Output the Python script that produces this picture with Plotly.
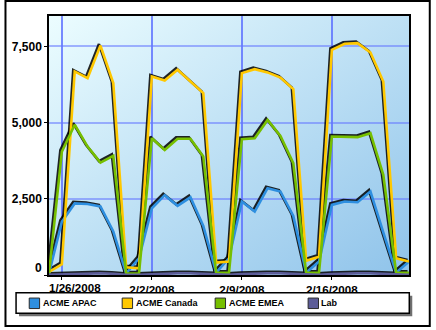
import base64
import datetime as dt
import plotly.graph_objects as go

# Daily values per region
dates = [
    "2008-01-25", "2008-01-26", "2008-01-27", "2008-01-28", "2008-01-29", "2008-01-30",
    "2008-01-31", "2008-02-01", "2008-02-02", "2008-02-03", "2008-02-04", "2008-02-05",
    "2008-02-06", "2008-02-07", "2008-02-08", "2008-02-09", "2008-02-10", "2008-02-11",
    "2008-02-12", "2008-02-13", "2008-02-14", "2008-02-15", "2008-02-16", "2008-02-17",
    "2008-02-18", "2008-02-19", "2008-02-20", "2008-02-21", "2008-02-22",
]
acme_apac = [50, 1750, 2350, 2330, 2250, 1430, 50, 550, 2190, 2620, 2270, 2550, 1610, 75, 550,
             2410, 2080, 2850, 2740, 1940, 75, 440, 2300, 2410, 2390, 2740, 1400, 75, 440]
acme_canada = [100, 350, 6680, 6460, 7530, 6300, 250, 220, 6515, 6385, 6735, 6360, 5970, 405, 440,
               6625, 6755, 6650, 6480, 6100, 470, 600, 7390, 7590, 7610, 7300, 6350, 550, 440]
acme_emea = [50, 4050, 4930, 4215, 3690, 3910, 50, 50, 4490, 4100, 4470, 4470, 3890, 75, 75,
             4455, 4490, 5090, 4565, 3670, 75, 75, 4545, 4525, 4525, 4655, 3285, 75, 75]
lab = [5, 20, 45, 55, 55, 40, 5, 5, 30, 50, 55, 55, 40, 5, 5,
       30, 50, 55, 55, 40, 5, 5, 30, 50, 55, 55, 40, 5, 5]

series_names = ["ACME APAC", "ACME Canada", "ACME EMEA", "Lab"]
series_values = [acme_apac, acme_canada, acme_emea, lab]
series_colors = ["#2e8fe0", "#ffc800", "#76bf00", "#5c5c98"]

x_range = ["2008-01-25", "2008-02-22"]
y_range = [0, 8500]
x_tickvals = ["2008-01-26", "2008-02-02", "2008-02-09", "2008-02-16"]
x_ticktext = ["1/26/2008", "2/2/2008", "2/9/2008", "2/16/2008"]
y_tickvals = [0, 2500, 5000, 7500]
y_ticktext = ["0", "2,500", "5,000", "7,500"]

# Page geometry (px)
W, H = 436, 330
ML, MR, MT, MB = 45, 27, 16, 55
PW, PH = W - ML - MR, H - MT - MB


def px_x(px):
    return (px - ML) / PW


def px_y(py):
    return (H - MB - py) / PH


FONT = "Liberation Sans, Arial, sans-serif"
TICK_FONT_X = dict(family=FONT, size=11.6, weight="bold", color="black")
TICK_FONT_Y = dict(family=FONT, size=12, weight="bold", color="black")
LEGEND_FONT = dict(family=FONT, size=9, weight="bold", color="black")

# Drop shadow sits ~1.5px up-left of each line: an overlay axis pair with shifted ranges
x0 = dt.datetime.fromisoformat(x_range[0])
x1 = dt.datetime.fromisoformat(x_range[1])
shift_x = (x1 - x0) * (1.5 / PW)
shift_y = 1.5 / PH * (y_range[1] - y_range[0])

fig = go.Figure()

for vals in series_values:
    fig.add_trace(go.Scatter(
        x=dates, y=vals, mode="lines", showlegend=False,
        line=dict(color="rgba(0,0,0,0.85)", width=2.6),
        xaxis="x2", yaxis="y2", hoverinfo="skip",
    ))

for name, vals, color in zip(series_names, series_values, series_colors):
    fig.add_trace(go.Scatter(
        x=dates, y=vals, mode="lines", name=name, showlegend=False,
        line=dict(color=color, width=2.6),
        xaxis="x3", yaxis="y3",
    ))

grad_svg = (
    '<svg xmlns="http://www.w3.org/2000/svg" width="100" height="100" viewBox="0 0 100 100" '
    'preserveAspectRatio="none"><defs><linearGradient id="g" x1="0" y1="0" x2="1" y2="1">'
    '<stop offset="0" stop-color="#ecfdff"/><stop offset="1" stop-color="#8fc3ea"/>'
    '</linearGradient></defs><rect width="100" height="100" fill="url(#g)"/></svg>'
)
grad_src = "data:image/svg+xml;base64," + base64.b64encode(grad_svg.encode()).decode()

# Legend box (px) with a drop shadow, swatch + label per series
LEG_L, LEG_T, LEG_R, LEG_B = 11.7, 292.7, 409.3, 313.3
LEG_ITEM_X0, LEG_PITCH, LEG_CY, SW = 25, 94, 303.3, 10.5

shapes = [
    dict(type="rect", xref="paper", yref="paper", x0=px_x(1), x1=px_x(430),
         y0=px_y(326), y1=px_y(1), line=dict(color="black", width=2),
         fillcolor="rgba(0,0,0,0)", layer="above"),
    dict(type="rect", xref="paper", yref="paper", x0=px_x(LEG_L + 3), x1=px_x(LEG_R + 3),
         y0=px_y(LEG_B + 3), y1=px_y(LEG_T + 3), line=dict(width=0),
         fillcolor="#6f6f6f", layer="above"),
    dict(type="rect", xref="paper", yref="paper", x0=px_x(LEG_L), x1=px_x(LEG_R),
         y0=px_y(LEG_B), y1=px_y(LEG_T), line=dict(color="black", width=1.5),
         fillcolor="white", layer="above"),
]
annotations = [
    dict(text=y_ticktext[0], x=0, xref="paper", y=y_tickvals[0], yref="y",
         xanchor="right", yanchor="middle", xshift=-5, yshift=7, showarrow=False,
         font=TICK_FONT_Y),
    dict(text=x_ticktext[0], x=x_tickvals[0], xref="x", y=0, yref="paper",
         xanchor="center", yanchor="top", xshift=13, yshift=-4, showarrow=False,
         font=TICK_FONT_X),
]
for k, (name, color) in enumerate(zip(series_names, series_colors)):
    left = LEG_ITEM_X0 + LEG_PITCH * k
    shapes.append(dict(
        type="rect", xref="paper", yref="paper",
        x0=px_x(left), x1=px_x(left + SW),
        y0=px_y(LEG_CY + SW / 2), y1=px_y(LEG_CY - SW / 2),
        line=dict(color="#2a2a2a", width=1), fillcolor=color, layer="above",
    ))
    annotations.append(dict(
        text=name, x=px_x(left + SW + 1), xref="paper", y=px_y(LEG_CY), yref="paper",
        xanchor="left", yanchor="middle", showarrow=False, font=LEGEND_FONT,
    ))

hidden_axis = dict(visible=False, showgrid=False, zeroline=False, showline=False, showticklabels=False)

fig.update_layout(
    width=W, height=H,
    margin=dict(l=ML, r=MR, t=MT, b=MB),
    paper_bgcolor="white",
    plot_bgcolor="rgba(0,0,0,0)",
    font=dict(family=FONT, color="black"),
    showlegend=False,
    xaxis=dict(
        type="date", range=x_range, tickvals=x_tickvals, ticktext=[""] + x_ticktext[1:],
        showgrid=True, gridcolor="rgba(90,110,255,0.8)", gridwidth=1.6,
        showline=True, linecolor="black", linewidth=1.5, mirror=True,
        ticks="outside", ticklen=3, tickcolor="black", tickfont=TICK_FONT_X,
        zeroline=False, fixedrange=True,
    ),
    yaxis=dict(
        range=y_range, tickvals=y_tickvals, ticktext=[""] + y_ticktext[1:],
        showgrid=True, gridcolor="rgba(100,118,255,0.55)", gridwidth=2,
        showline=True, linecolor="black", linewidth=1.5, mirror=True,
        ticks="outside", ticklen=3, tickcolor="black", tickfont=TICK_FONT_Y,
        zeroline=False, fixedrange=True,
    ),
    xaxis2=dict(type="date", overlaying="x", anchor="y2",
                range=[x0 + shift_x, x1 + shift_x], **hidden_axis),
    yaxis2=dict(overlaying="y", anchor="x2",
                range=[y_range[0] - shift_y, y_range[1] - shift_y], **hidden_axis),
    xaxis3=dict(type="date", overlaying="x", anchor="y3", range=x_range, **hidden_axis),
    yaxis3=dict(overlaying="y", anchor="x3", range=y_range, **hidden_axis),
    images=[dict(source=grad_src, xref="paper", yref="paper", x=0, y=1, sizex=1, sizey=1,
                 xanchor="left", yanchor="top", sizing="stretch", layer="below")],
    shapes=shapes,
    annotations=annotations,
)

fig.write_html("out.html")
